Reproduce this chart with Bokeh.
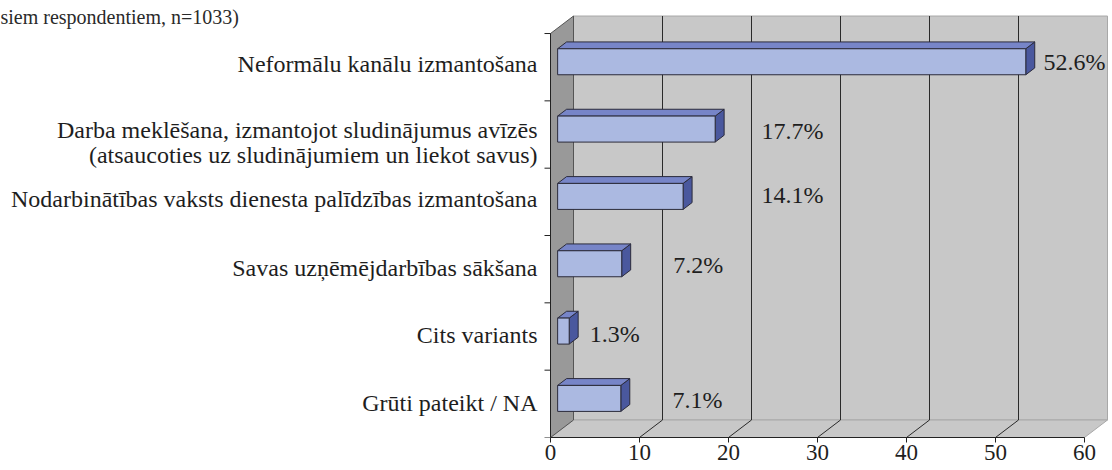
from bokeh.plotting import figure
from bokeh.models import Range1d, LinearAxis, FixedTicker, ColumnDataSource
from bokeh.core.properties import value
from bokeh.embed import file_html
from bokeh.resources import INLINE

# ---------------- data ----------------
categories = [
    "Neformālu kanālu izmantošana",
    "Darba meklēšana, izmantojot sludinājumus avīzēs\n(atsaucoties uz sludinājumiem un liekot savus)",
    "Nodarbinātības vaksts dienesta palīdzības izmantošana",
    "Savas uzņēmējdarbības sākšana",
    "Cits variants",
    "Grūti pateikt / NA",
]
values = [52.6, 17.7, 14.1, 7.2, 1.3, 7.1]
value_labels = ["52.6%", "17.7%", "14.1%", "7.2%", "1.3%", "7.1%"]
x_ticks = [0, 10, 20, 30, 40, 50, 60]
subtitle = "siem respondentiem, n=1033)"

# ---------------- layout ----------------
FONT = "'Liberation Serif', 'Times New Roman', Times, serif"
W, FRAME_H = 1112, 437
ZERO_PX = 550                 # canvas x of value 0
SX = 8.9                      # px per x unit
X_MIN = -ZERO_PX / SX
X_MAX = X_MIN + W / SX
N = len(categories)
BAND_PX = 67.33
Y_MAX = FRAME_H / BAND_PX
SY = BAND_PX                  # px per y unit
DX = 23 / SX                  # 3D depth offset (x)
DY = 17.5 / SY                # 3D depth offset (y)
F0, F1 = 0.31, 0.70           # bar front / back depth fractions
BAR_H = 26 / SY
XMAX_AXIS = x_ticks[-1]
# Excel-like placement of the labels
label_x = [55.4, 23.7, 23.7, 13.8, 4.4, 13.7]      # value labels, x in data units
label_dy = [-5, -4, -7, -4, -3, -4]                 # value labels, px
cat_dy = [-3, 8, -3, -1, -2, -1]                    # category labels, px

p = figure(frame_width=W, frame_height=FRAME_H,
           x_range=Range1d(X_MIN, X_MAX), y_range=Range1d(0, Y_MAX),
           output_backend="svg", toolbar_location=None,
           x_axis_location=None, y_axis_location=None,
           min_border_left=0, min_border_right=0, min_border_top=0, min_border_bottom=31,
           background_fill_color="white", border_fill_color="white",
           outline_line_color=None)
p.xgrid.visible = False
p.ygrid.visible = False

WALL = "#c8c8c8"
SIDE = "#999999"
INK = "#1e1e1e"

# back wall
p.quad(left=DX, right=XMAX_AXIS + DX, bottom=DY, top=N + DY,
       fill_color=WALL, line_color="#a8a8a8", line_width=1)
# floor
p.patch([0, XMAX_AXIS, XMAX_AXIS + DX, DX], [0, 0, DY, DY],
        fill_color=WALL, line_color="#a8a8a8", line_width=1)
# left wall
p.patch([0, DX, DX, 0], [0, DY, N + DY, N],
        fill_color=SIDE, line_color="#555555", line_width=1)

inner = x_ticks[1:-1]
p.segment(x0=[t + DX for t in inner], y0=[DY] * len(inner),
          x1=[t + DX for t in inner], y1=[N + DY] * len(inner),
          line_color="#2a2a2a", line_width=1)
p.segment(x0=inner, y0=[0] * len(inner), x1=[t + DX for t in inner], y1=[DY] * len(inner),
          line_color="#2a2a2a", line_width=1)

# front-left (category) axis line and ticks
p.segment(x0=[0], y0=[0], x1=[0], y1=[N], line_color="#222222", line_width=1)
bounds = list(range(N + 1))
p.segment(x0=[-6 / SX] * len(bounds), y0=bounds, x1=[0] * len(bounds), y1=bounds,
          line_color="#222222", line_width=1)

# bars
yc = [N - i - 0.5 for i in range(N)]
yb = [c - BAR_H / 2 for c in yc]
yt = [c + BAR_H / 2 for c in yc]
fx0, fy0 = F0 * DX, F0 * DY
fx1, fy1 = F1 * DX, F1 * DY

side_xs = [[v + fx0, v + fx1, v + fx1, v + fx0] for v in values]
side_ys = [[b + fy0, b + fy1, t + fy1, t + fy0] for b, t in zip(yb, yt)]
top_xs = [[fx0, v + fx0, v + fx1, fx1] for v in values]
top_ys = [[t + fy0, t + fy0, t + fy1, t + fy1] for t in yt]

p.patches(side_xs, side_ys, fill_color="#4a589e", line_color="#2b2b3b", line_width=1)
p.patches(top_xs, top_ys, fill_color="#7785c8", line_color="#2b2b3b", line_width=1)
p.quad(left=[fx0] * N, right=[v + fx0 for v in values],
       bottom=[b + fy0 for b in yb], top=[t + fy0 for t in yt],
       fill_color="#abb9e1", line_color="#2b2b3b", line_width=1)

# value labels
src = ColumnDataSource(dict(x=label_x, y=yc, t=value_labels, dy=label_dy))
p.text(x="x", y="y", text="t", source=src, text_font=value(FONT),
       text_font_size="24px", text_color=INK,
       text_baseline="alphabetic", text_align="left", y_offset="dy")

# category labels
csrc = ColumnDataSource(dict(x=[0] * N, y=yc, t=categories, dy=cat_dy))
p.text(x="x", y="y", text="t", source=csrc, text_font=value(FONT),
       text_font_size="24px", text_color=INK, text_align="right",
       text_baseline="middle", x_offset=-13, y_offset="dy", text_line_height=0.96)

# subtitle at top-left (cropped in the source)
p.text(x=[X_MIN], y=[Y_MAX - 16 / SY], text=[subtitle], text_font=value(FONT),
       text_font_size="20px", text_color="#2a2a2a", text_baseline="alphabetic",
       text_align="left")

# bottom axis
xax = LinearAxis(ticker=FixedTicker(ticks=x_ticks), bounds=(0, XMAX_AXIS))
xax.major_tick_out = 5
xax.major_tick_in = 0
xax.minor_tick_out = 0
xax.minor_tick_in = 0
xax.axis_line_color = "#222222"
xax.major_tick_line_color = "#222222"
xax.major_label_text_font = FONT
xax.major_label_text_font_size = "23px"
xax.major_label_text_color = INK
xax.major_label_standoff = 2
p.add_layout(xax, "below")

open("out.html", "w").write(file_html(p, INLINE))
